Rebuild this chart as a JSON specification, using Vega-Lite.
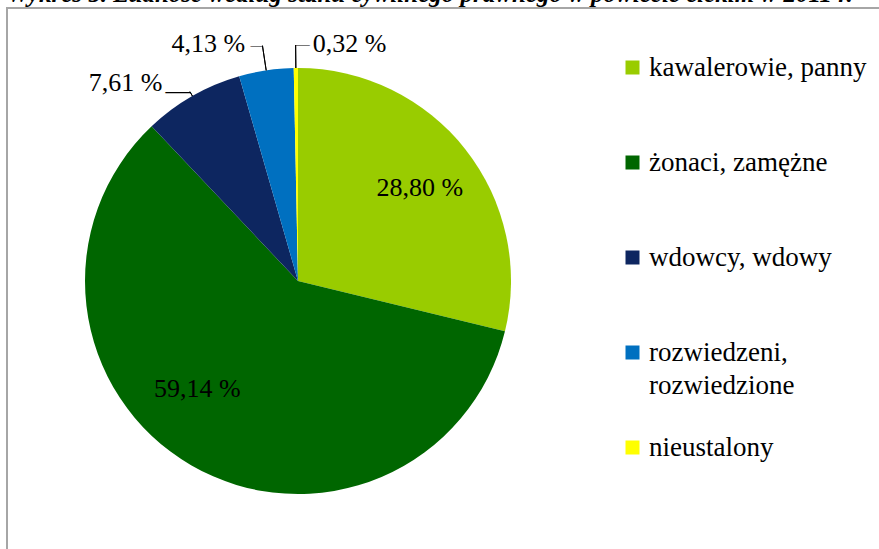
{
  "$schema": "https://vega.github.io/schema/vega-lite/v6.json",
  "width": 880,
  "height": 545,
  "autosize": {"type": "none"},
  "padding": {"left": 7, "top": 8, "right": 0, "bottom": 0},
  "background": "white",
  "title": {
    "text": "Wykres 5. Ludność według stanu cywilnego prawnego w powiecie ełckim w 2011 r.",
    "anchor": "start",
    "font": "Liberation Serif",
    "fontSize": 25,
    "fontStyle": "italic",
    "fontWeight": "bold",
    "color": "#000000",
    "offset": 1
  },
  "config": {
    "view": {"stroke": "#A6A6A6", "strokeWidth": 2}
  },
  "data": {
    "values": [
      {"i": 1, "stan": "kawalerowie, panny", "value": 28.80, "label": "28,80 %"},
      {"i": 2, "stan": "żonaci, zamężne", "value": 59.14, "label": "59,14 %"},
      {"i": 3, "stan": "wdowcy, wdowy", "value": 7.61, "label": "7,61 %"},
      {"i": 4, "stan": "rozwiedzeni, rozwiedzione", "value": 4.13, "label": "4,13 %"},
      {"i": 5, "stan": "nieustalony", "value": 0.32, "label": "0,32 %"}
    ]
  },
  "encoding": {
    "x": {"datum": 0, "type": "quantitative", "scale": {"domain": [-291, 589]}, "axis": null},
    "y": {"datum": 0, "type": "quantitative", "scale": {"domain": [-272, 273]}, "axis": null},
    "theta": {"field": "value", "type": "quantitative", "stack": true},
    "order": {"field": "i", "type": "quantitative"}
  },
  "layer": [
    {
      "mark": {"type": "arc", "outerRadius": 213},
      "encoding": {
        "color": {
          "field": "stan",
          "type": "nominal",
          "scale": {
            "domain": ["kawalerowie, panny", "żonaci, zamężne", "wdowcy, wdowy", "rozwiedzeni, rozwiedzione", "nieustalony"],
            "range": ["#99CC00", "#006600", "#0D2660", "#0070C0", "#FFFF00"]
          },
          "legend": {
            "title": null,
            "orient": "none",
            "legendX": 612,
            "legendY": 46,
            "padding": 0,
            "symbolType": "square",
            "symbolSize": 196,
            "symbolStrokeWidth": 0,
            "labelFont": "Liberation Serif",
            "labelFontSize": 27,
            "labelColor": "#000000",
            "labelOffset": 3,
            "labelLimit": 400,
            "gridAlign": "all",
            "rowPadding": 34,
            "labelExpr": "datum.label == 'rozwiedzeni, rozwiedzione' ? ['rozwiedzeni,', 'rozwiedzione'] : datum.label",
            "encode": {
              "labels": {
                "update": {
                  "lineHeight": {"value": 33}
                }
              }
            }
          }
        }
      }
    },
    {
      "mark": {"type": "arc", "innerRadius": 213, "outerRadius": 218, "padAngle": 3, "fill": null, "stroke": "#000000", "strokeWidth": 1},
      "encoding": {"strokeOpacity": {"condition": {"test": "datum.i == 3", "value": 1}, "value": 0}}
    },
    {
      "mark": {"type": "arc", "innerRadius": 213, "outerRadius": 238, "padAngle": 3, "fill": null, "stroke": "#000000", "strokeWidth": 1},
      "encoding": {"strokeOpacity": {"condition": {"test": "datum.i == 4", "value": 1}, "value": 0}}
    },
    {
      "mark": {"type": "arc", "innerRadius": 213, "outerRadius": 236, "padAngle": 3, "fill": null, "stroke": "#000000", "strokeWidth": 1},
      "encoding": {"strokeOpacity": {"condition": {"test": "datum.i == 5", "value": 1}, "value": 0}}
    },
    {
      "mark": {"type": "text", "text": "—", "radius": 217, "dy": 6, "align": "right", "baseline": "alphabetic", "font": "Liberation Serif", "fontSize": 25, "color": "#000000"},
      "encoding": {"opacity": {"condition": {"test": "datum.i == 3", "value": 1}, "value": 0}}
    },
    {
      "mark": {"type": "text", "text": "—", "radius": 238, "dy": 3, "align": "right", "baseline": "alphabetic", "font": "Liberation Serif", "fontSize": 12, "color": "#000000"},
      "encoding": {"opacity": {"condition": {"test": "datum.i == 4", "value": 1}, "value": 0}}
    },
    {
      "mark": {"type": "text", "text": "—", "radius": 236, "dy": 3.5, "align": "left", "baseline": "alphabetic", "font": "Liberation Serif", "fontSize": 14, "color": "#000000"},
      "encoding": {"opacity": {"condition": {"test": "datum.i == 5", "value": 1}, "value": 0}}
    },
    {
      "mark": {"type": "text", "radius": 155, "dy": 3, "font": "Liberation Serif", "fontSize": 26, "color": "#000000"},
      "encoding": {"text": {"condition": {"test": "datum.i == 1", "field": "label", "type": "nominal"}, "value": ""}}
    },
    {
      "mark": {"type": "text", "radius": 147, "dx": -27, "dy": -19, "font": "Liberation Serif", "fontSize": 26, "color": "#000000"},
      "encoding": {"text": {"condition": {"test": "datum.i == 2", "field": "label", "type": "nominal"}, "value": ""}}
    },
    {
      "mark": {"type": "text", "radius": 213, "dx": -30, "dy": -13, "align": "right", "font": "Liberation Serif", "fontSize": 26, "color": "#000000"},
      "encoding": {"text": {"condition": {"test": "datum.i == 3", "field": "label", "type": "nominal"}, "value": ""}}
    },
    {
      "mark": {"type": "text", "radius": 213, "dx": -21, "dy": -26, "align": "right", "font": "Liberation Serif", "fontSize": 26, "color": "#000000"},
      "encoding": {"text": {"condition": {"test": "datum.i == 4", "field": "label", "type": "nominal"}, "value": ""}}
    },
    {
      "mark": {"type": "text", "radius": 213, "dx": 17, "dy": -24, "align": "left", "font": "Liberation Serif", "fontSize": 26, "color": "#000000"},
      "encoding": {"text": {"condition": {"test": "datum.i == 5", "field": "label", "type": "nominal"}, "value": ""}}
    }
  ]
}
